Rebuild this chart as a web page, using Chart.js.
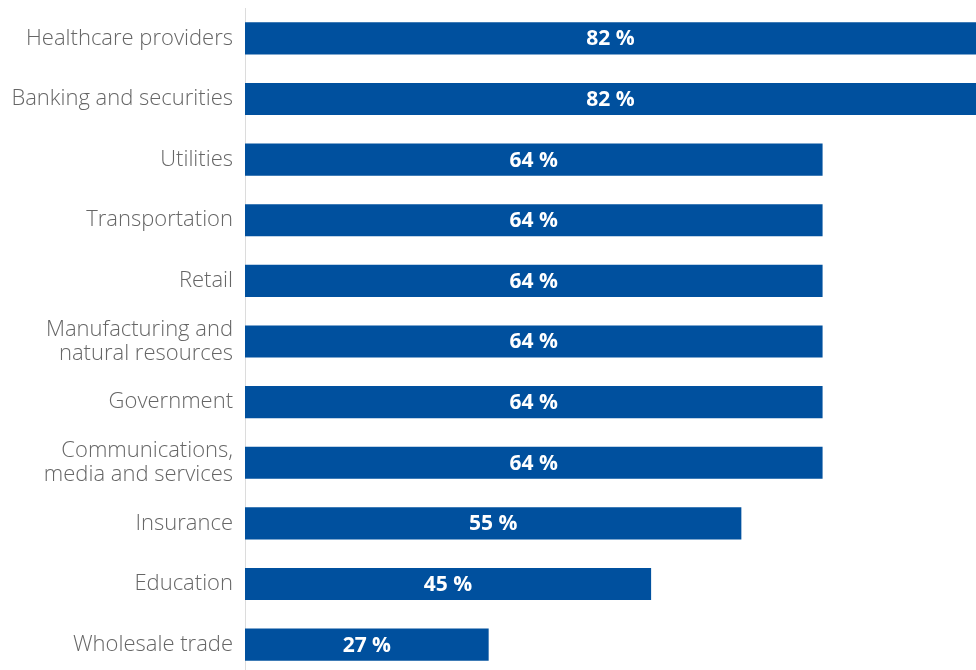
<!DOCTYPE html>
<html>
<head>
<meta charset="utf-8">
<script src="https://cdn.jsdelivr.net/npm/chart.js@4.4.1/dist/chart.umd.min.js"></script>
<style>
  html, body { margin: 0; padding: 0; overflow: hidden; background: #fff; }
  #wrap { position: relative; width: 976px; height: 675px; }
</style>
</head>
<body>
<div id="wrap"><canvas id="c"></canvas></div>
<script>
// Share of organisations per industry
const industries = [
  'Healthcare providers',
  'Banking and securities',
  'Utilities',
  'Transportation',
  'Retail',
  ['Manufacturing and', 'natural resources'],
  'Government',
  ['Communications,', 'media and services'],
  'Insurance',
  'Education',
  'Wholesale trade'
];
const shares = [82, 82, 64, 64, 64, 64, 64, 64, 55, 45, 27];
const valueLabels = shares.map(v => v + ' %');

// Writes each value in white, centred on the visible part of its bar
const barValues = {
  id: 'barValues',
  afterDatasetsDraw(chart) {
    const { ctx, chartArea } = chart;
    const meta = chart.getDatasetMeta(0);
    ctx.save();
    ctx.fillStyle = '#ffffff';
    ctx.font = 'bold 21px "Open Sans", sans-serif';
    ctx.textAlign = 'center';
    ctx.textBaseline = 'middle';
    meta.data.forEach((bar, i) => {
      const right = Math.min(bar.x, chartArea.right);
      const x = (bar.base + right) / 2;
      ctx.fillText(valueLabels[i], x, bar.y + 1);
    });
    ctx.restore();
  }
};

new Chart(document.getElementById('c'), {
  type: 'bar',
  data: {
    labels: industries,
    datasets: [{
      data: shares,
      backgroundColor: '#00509e',
      borderWidth: 0,
      barPercentage: 0.53,
      categoryPercentage: 1.0
    }]
  },
  options: {
    indexAxis: 'y',
    responsive: true,
    maintainAspectRatio: false,
    animation: false,
    layout: { padding: { top: 8, right: 0, bottom: 0, left: 0 } },
    plugins: { legend: { display: false }, tooltip: { enabled: false } },
    scales: {
      x: { display: false, min: 0, max: 81 },
      y: {
        afterFit(scale) {
          scale.width = 245;
          scale.paddingTop = 0;
          scale.paddingBottom = 0;
        },
        grid: { display: false, drawTicks: false },
        border: { display: true, color: '#dcdcdc', width: 1 },
        ticks: {
          color: '#666666',
          padding: 12,
          font: { family: '"Open Sans", sans-serif', size: 22, weight: 300, lineHeight: 1.1 }
        }
      }
    }
  },
  plugins: [barValues]
});
</script>
</body>
</html>
